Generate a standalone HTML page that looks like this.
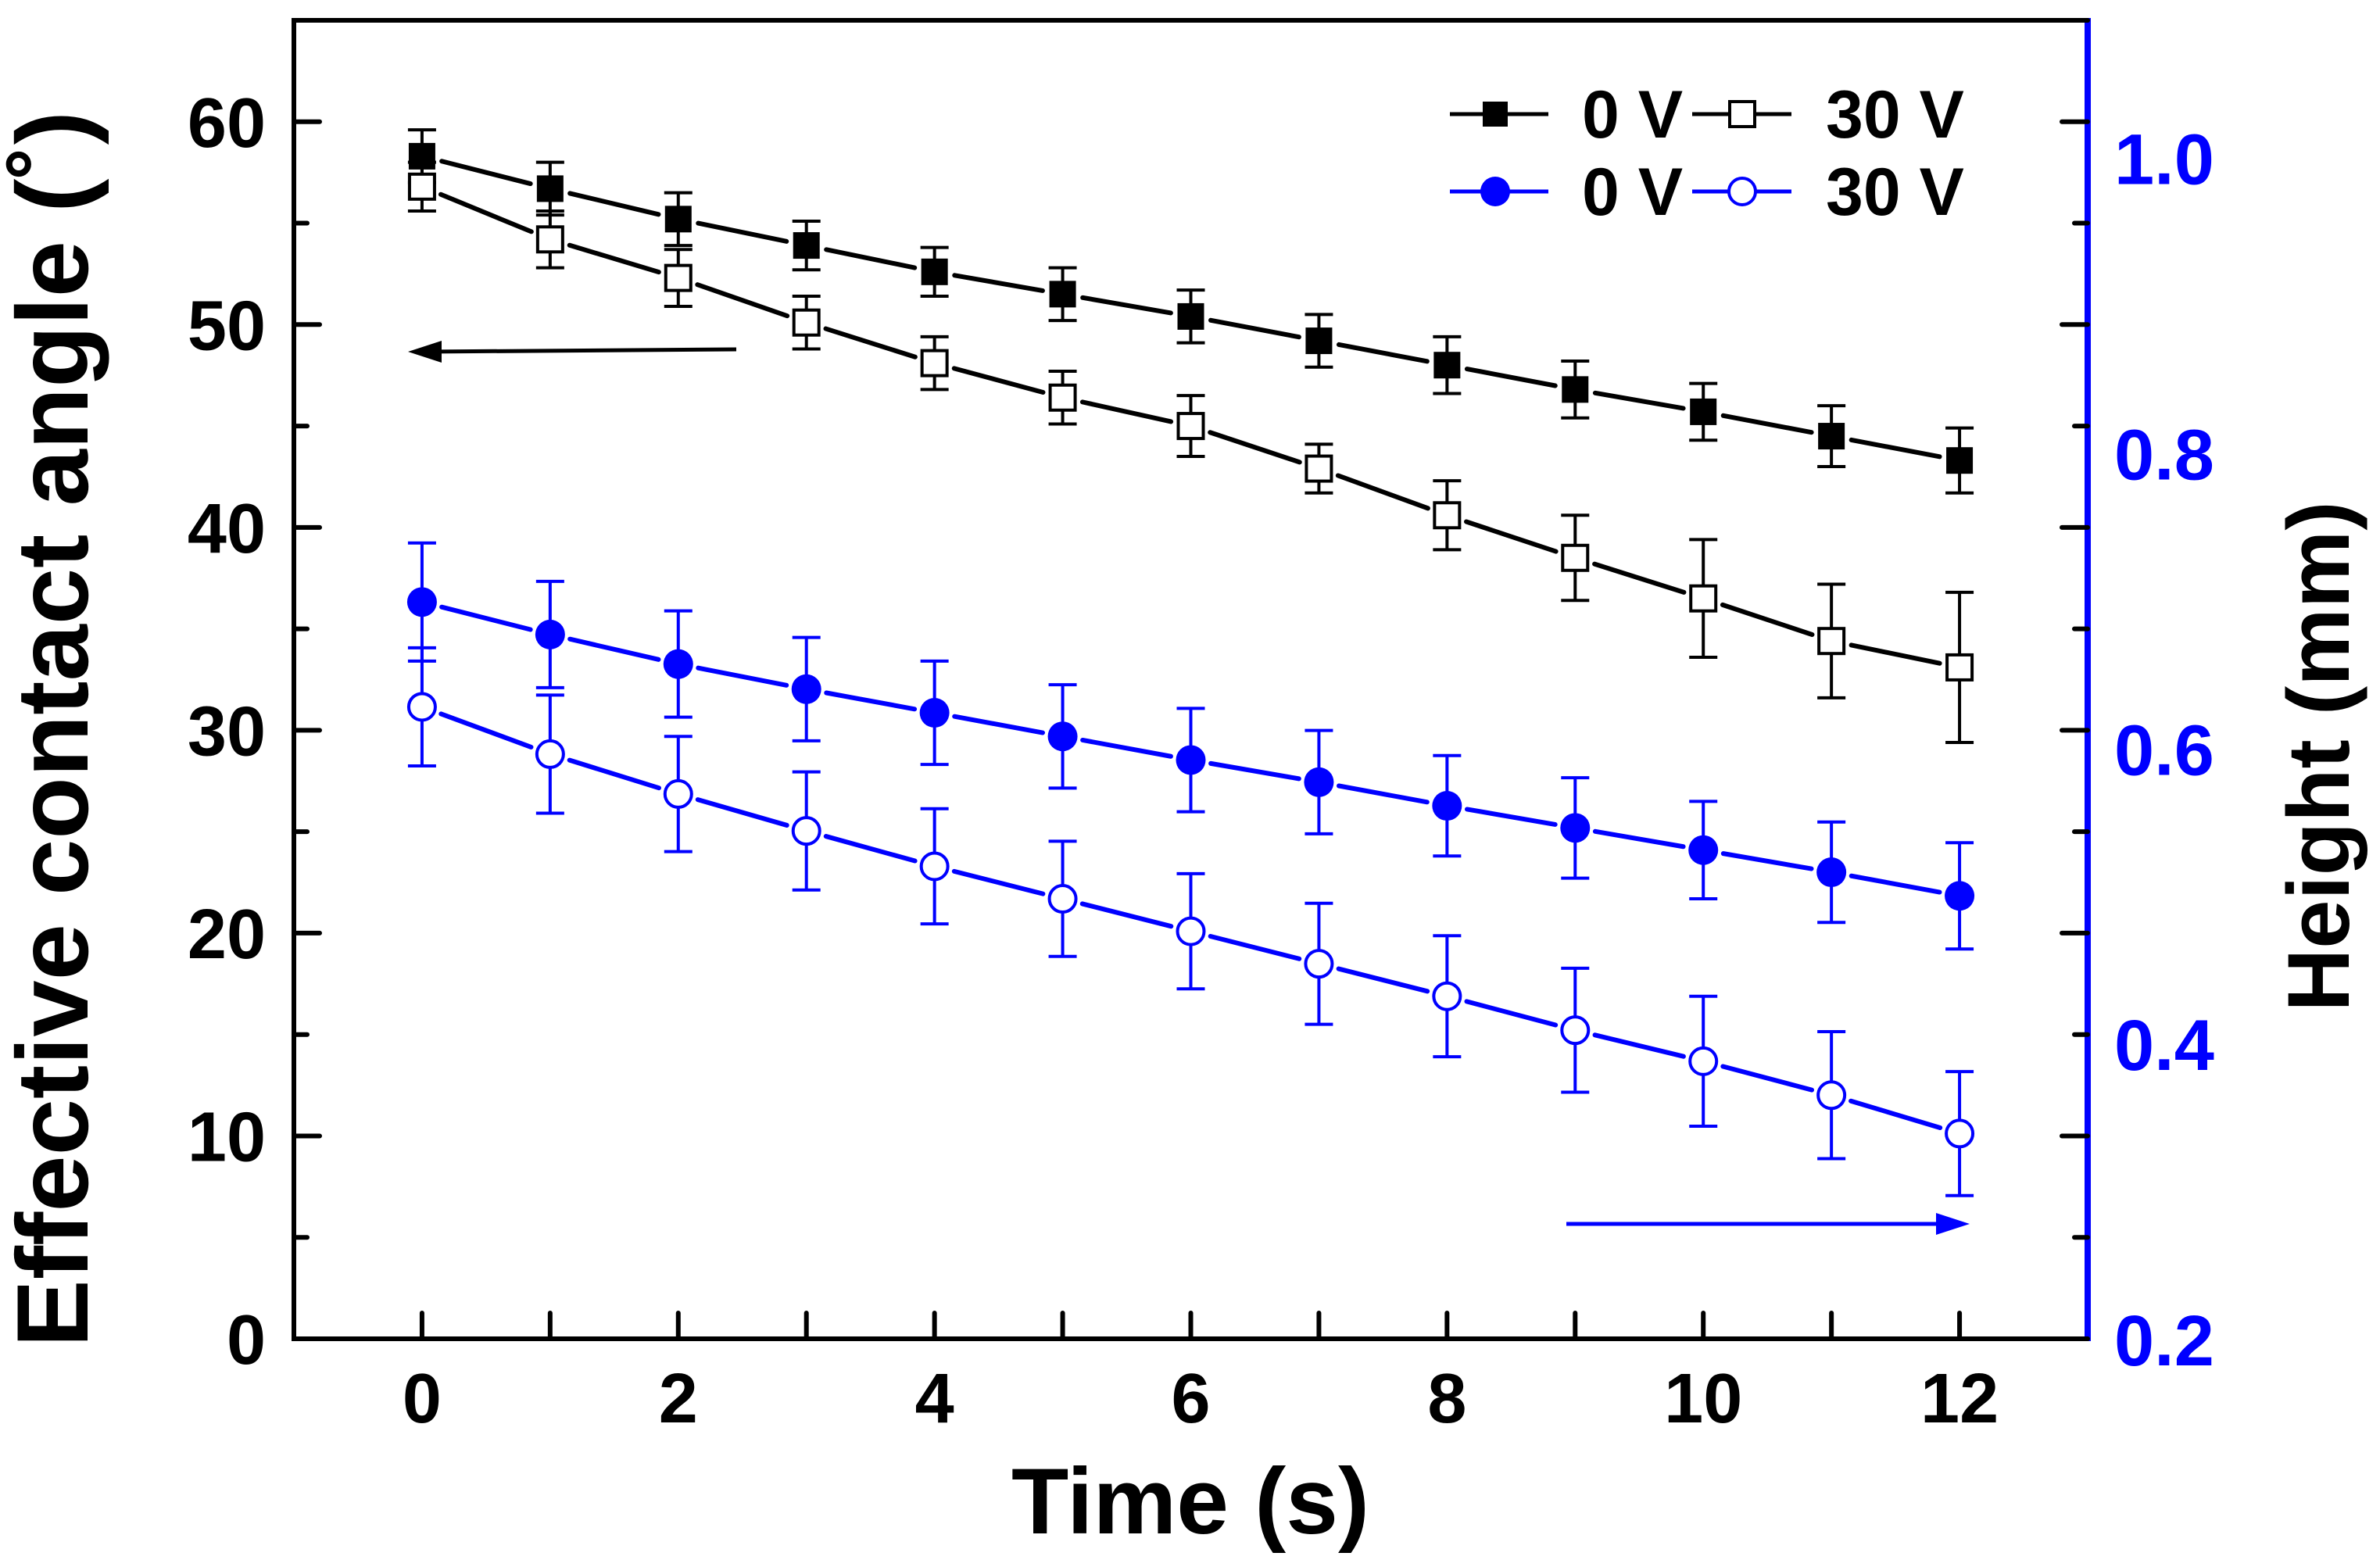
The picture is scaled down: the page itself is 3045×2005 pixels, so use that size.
<!DOCTYPE html>
<html><head><meta charset="utf-8"><style>
html,body{margin:0;padding:0;background:#fff;}
svg{display:block;font-family:"Liberation Sans",Arial,sans-serif;font-weight:bold;}
</style></head><body>
<svg id="chart" width="3045" height="2005" viewBox="0 0 3045 2005" xmlns="http://www.w3.org/2000/svg">
<rect x="0" y="0" width="3045" height="2005" fill="#fff"/>
<g id="marks"></g>
<g id="axes"></g>
<text x="1523" y="1962" font-size="120" text-anchor="middle" fill="#000">Time (s)</text>
<text transform="translate(112,933) rotate(-90)" font-size="130" text-anchor="middle" fill="#000">Effective contact angle (˚)</text>
<text transform="translate(3005,968) rotate(-90)" font-size="112" text-anchor="middle" fill="#000">Height (mm)</text>
<line x1="942" y1="447" x2="545" y2="450" stroke="#000" stroke-width="5"/>
<polygon points="522,450 565,436 565,464" fill="#000"/>
<line x1="2004" y1="1566" x2="2495" y2="1566" stroke="#00f" stroke-width="5"/>
<polygon points="2520,1566 2477,1552 2477,1580" fill="#00f"/>
<g>
  <line x1="1855" y1="146" x2="1981" y2="146" stroke="#000" stroke-width="5"/>
  <rect x="1897" y="130" width="32" height="32" fill="#000"/>
  <text x="2024" y="176" font-size="86" fill="#000">0 V</text>
  <line x1="2165" y1="146" x2="2292" y2="146" stroke="#000" stroke-width="5"/>
  <rect x="2213" y="130" width="32" height="32" fill="#fff" stroke="#000" stroke-width="4"/>
  <text x="2336" y="176" font-size="86" fill="#000">30 V</text>
  <line x1="1855" y1="245" x2="1981" y2="245" stroke="#00f" stroke-width="5"/>
  <circle cx="1913" cy="245" r="19" fill="#00f"/>
  <text x="2024" y="275" font-size="86" fill="#000">0 V</text>
  <line x1="2165" y1="245" x2="2292" y2="245" stroke="#00f" stroke-width="5"/>
  <circle cx="2229" cy="245" r="17" fill="#fff" stroke="#00f" stroke-width="4"/>
  <text x="2336" y="275" font-size="86" fill="#000">30 V</text>
</g>
</svg>
<script>
const times = [0,1,2,3,4,5,6,7,8,9,10,11,12];
const angle0V = [58.3,56.7,55.2,53.9,52.6,51.5,50.4,49.2,48.0,46.8,45.7,44.5,43.3];
const angle0VErr = [1.3,1.3,1.3,1.2,1.2,1.3,1.3,1.3,1.4,1.4,1.4,1.5,1.6];
const angle30V = [56.8,54.2,52.3,50.1,48.1,46.4,45.0,42.9,40.6,38.5,36.5,34.4,33.1];
const angle30VErr = [1.2,1.4,1.4,1.3,1.3,1.3,1.5,1.2,1.7,2.1,2.9,2.8,3.7];
const height0V = [0.699,0.677,0.657,0.640,0.624,0.608,0.592,0.577,0.561,0.546,0.531,0.516,0.500];
const height0VErr = [0.040,0.036,0.036,0.035,0.035,0.035,0.035,0.035,0.034,0.034,0.033,0.034,0.036];
const height30V = [0.628,0.596,0.569,0.544,0.520,0.498,0.476,0.454,0.432,0.409,0.388,0.365,0.339];
const height30VErr = [0.040,0.040,0.039,0.040,0.039,0.039,0.039,0.041,0.041,0.042,0.044,0.043,0.042];
const xTicks = [0,2,4,6,8,10,12];
const leftTicks = [0,10,20,30,40,50,60];
const rightTicks = ["0.2","0.4","0.6","0.8","1.0"];

const L=376,R=2671,T=26,B=1713;
const xMin=-1,xMax=13,yMin=0,yMax=65,y2Min=0.2,y2Max=1.093;
const xs=v=>L+(v-xMin)/(xMax-xMin)*(R-L);
const ys=v=>B-(v-yMin)/(yMax-yMin)*(B-T);
const ys2=v=>B-(v-y2Min)/(y2Max-y2Min)*(B-T);
const NS="http://www.w3.org/2000/svg";
function mk(tag,attrs,parent){const e=document.createElementNS(NS,tag);for(const k in attrs)e.setAttribute(k,attrs[k]);parent.appendChild(e);return e;}
const marks=document.getElementById('marks');
const axes=document.getElementById('axes');

function series(vals,errs,scale,color,shape,name){
  const g=mk('g',{},marks);
  
  
  const pts=times.map((t,i)=>[xs(t),scale(vals[i])]);
  for(let i=0;i<pts.length-1;i++){
    const [x1,y1]=pts[i],[x2,y2]=pts[i+1];
    const dx=x2-x1,dy=y2-y1,len=Math.hypot(dx,dy),gap=26;
    const s=mk('line',{x1:x1+dx*gap/len,y1:y1+dy*gap/len,x2:x2-dx*gap/len,y2:y2-dy*gap/len,stroke:color,'stroke-width':6,'stroke-linecap':'round'},g);
    
    
  }
  times.forEach((t,i)=>{
    const x=xs(t),yt=scale(vals[i]+errs[i]),yb=scale(vals[i]-errs[i]);
    const eb=mk('path',{d:`M${x},${yt}V${yb}M${x-18},${yt}h36M${x-18},${yb}h36`,stroke:color,'stroke-width':4,fill:'none'},g);
    
    
  });
  pts.forEach(([x,y])=>{
    let m;
    if(shape==='sq-fill') m=mk('rect',{x:x-17,y:y-17,width:34,height:34,fill:color},g);
    else if(shape==='sq-open') m=mk('rect',{x:x-16,y:y-16,width:32,height:32,fill:'#fff',stroke:color,'stroke-width':4},g);
    else if(shape==='ci-fill') m=mk('circle',{cx:x,cy:y,r:19,fill:color},g);
    else m=mk('circle',{cx:x,cy:y,r:17,fill:'#fff',stroke:color,'stroke-width':4},g);
    
    
  });
}
series(angle0V,angle0VErr,ys,'#000','sq-fill','angle-0v');
series(angle30V,angle30VErr,ys,'#000','sq-open','angle-30v');
series(height0V,height0VErr,ys2,'#00f','ci-fill','height-0v');
series(height30V,height30VErr,ys2,'#00f','ci-open','height-30v');

const fr=mk('path',{d:`M${R},${T}H${L}V${B}H${R}`,stroke:'#000','stroke-width':6,fill:'none'},axes);


const ra=mk('line',{x1:R,y1:T-3,x2:R,y2:B+3,stroke:'#00f','stroke-width':8},axes);


for(let t=0;t<=12;t++){
  const x=xs(t);
  const tk=mk('line',{x1:x,y1:B,x2:x,y2:B-33,stroke:'#000','stroke-width':6,'stroke-linecap':'round'},axes);
  
  
}
xTicks.forEach(v=>{
  const tx=mk('text',{x:xs(v),y:1820,'font-size':90,'text-anchor':'middle',fill:'#000'},axes);
  tx.textContent=v;
  
  
});
for(let v=0;v<=65;v+=5){
  const y=ys(v),len=(v%10===0)?33:17;
  const a=mk('line',{x1:L,y1:y,x2:L+len,y2:y,stroke:'#000','stroke-width':6,'stroke-linecap':'round'},axes);
  
  
  const b=mk('line',{x1:R,y1:y,x2:R-len,y2:y,stroke:'#000','stroke-width':6,'stroke-linecap':'round'},axes);
  
  
}
leftTicks.forEach(v=>{
  const tx=mk('text',{x:340,y:ys(v)+32,'font-size':90,'text-anchor':'end',fill:'#000'},axes);
  tx.textContent=v;
  
  
});
rightTicks.forEach(v=>{
  const tx=mk('text',{x:2705,y:ys2(parseFloat(v))+34,'font-size':92,'text-anchor':'start',fill:'#00f'},axes);
  tx.textContent=v;
  
  
});
</script>
</body></html>
